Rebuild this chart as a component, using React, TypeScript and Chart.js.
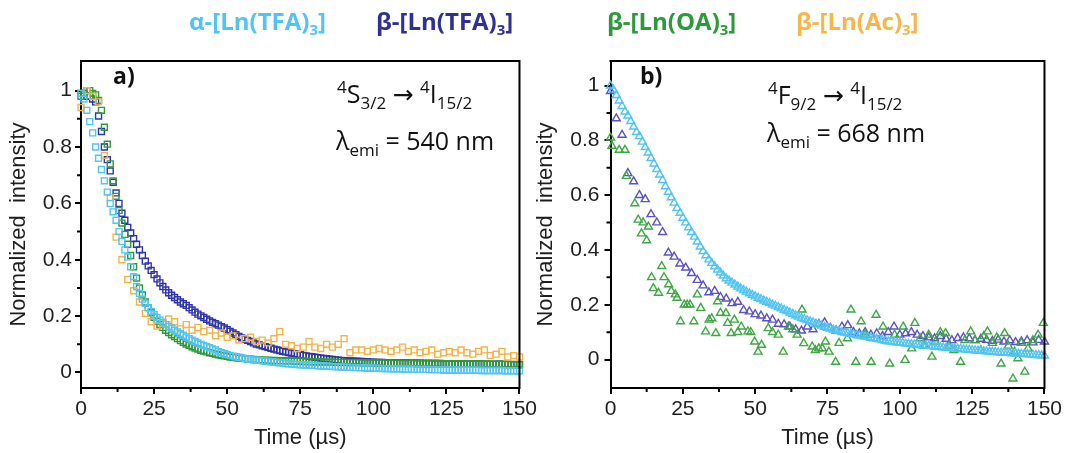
import React, { useEffect, useRef } from 'react';
import { Chart, registerables } from 'chart.js';

Chart.register(...registerables);

// ---------- sampling grids (µs) ----------
const grid1us: number[] = Array.from({ length: 151 }, (_, i) => i);
const grid2us: number[] = Array.from({ length: 76 }, (_, i) => i * 2);

// ---------- axis ticks ----------
const xTicks = [0, 25, 50, 75, 100, 125, 150];
const xMinorTicks = [12.5, 37.5, 62.5, 87.5, 112.5, 137.5];
const yTicks = [0, 0.2, 0.4, 0.6, 0.8, 1];
const yMinorTicks = [0.1, 0.3, 0.5, 0.7, 0.9];

// ---------- legend ----------
const legendNames = ['α-[Ln(TFA)', 'β-[Ln(TFA)', 'β-[Ln(OA)', 'β-[Ln(Ac)'];

// ---------- panel a) 4S3/2 -> 4I15/2, λemi = 540 nm (1 µs grid unless noted) ----------
const alphaTFA_a = [
  0.99, 0.97, 0.93, 0.89, 0.85, 0.80, 0.76, 0.72, 0.68, 0.64, 0.60, 0.57, 0.54, 0.50, 0.465, 0.435, 0.41,
  0.375, 0.34, 0.305, 0.28, 0.26, 0.245, 0.23, 0.217, 0.205, 0.195, 0.186, 0.178, 0.17, 0.163,
  0.157, 0.15, 0.144, 0.138, 0.132, 0.126, 0.12, 0.115, 0.11, 0.105, 0.1, 0.096, 0.092, 0.088, 0.084, 0.08,
  0.074, 0.07, 0.067, 0.064, 0.061, 0.058, 0.056, 0.054, 0.052, 0.05, 0.048, 0.047, 0.045, 0.044,
  0.043, 0.041, 0.04, 0.039, 0.038, 0.037, 0.035, 0.034, 0.033, 0.032, 0.031, 0.03, 0.029, 0.028, 0.027,
  0.027, 0.026, 0.026, 0.025, 0.025, 0.024, 0.024, 0.023, 0.022, 0.022, 0.021, 0.021, 0.02, 0.02, 0.019,
  0.019, 0.018, 0.018, 0.017, 0.017, 0.017, 0.016, 0.016, 0.016, 0.015,
  0.015, 0.015, 0.014, 0.014, 0.014, 0.013, 0.013, 0.013, 0.013, 0.012,
  0.012, 0.012, 0.012, 0.011, 0.011, 0.011, 0.011, 0.011, 0.01, 0.01,
  0.01, 0.01, 0.01, 0.009, 0.009, 0.009, 0.009, 0.009, 0.009, 0.008,
  0.008, 0.008, 0.008, 0.008, 0.008, 0.008, 0.007, 0.007, 0.007, 0.007,
  0.007, 0.007, 0.007, 0.007, 0.006, 0.006, 0.006, 0.006, 0.006, 0.006,
];

const betaTFA_a = [
  0.99, 0.99, 0.98, 0.98, 0.97, 0.96, 0.91, 0.855, 0.80, 0.755, 0.715, 0.675, 0.637, 0.60, 0.565, 0.54, 0.515,
  0.495, 0.475, 0.455, 0.435, 0.415, 0.395, 0.378, 0.362, 0.347, 0.332, 0.318, 0.305, 0.293, 0.283,
  0.274, 0.266, 0.258, 0.25, 0.244, 0.238, 0.23, 0.222, 0.214, 0.207, 0.201, 0.195, 0.189, 0.183, 0.178, 0.173,
  0.168, 0.163, 0.158, 0.152, 0.146, 0.14, 0.134, 0.128, 0.123, 0.118, 0.114, 0.11, 0.105, 0.101,
  0.098, 0.095, 0.092, 0.089, 0.086, 0.083, 0.08, 0.078, 0.075, 0.073, 0.071, 0.069, 0.067, 0.065, 0.063,
  0.061, 0.059, 0.057, 0.056, 0.054, 0.053, 0.051, 0.05, 0.049, 0.047, 0.046, 0.045, 0.044, 0.043, 0.042,
  0.041, 0.041, 0.04, 0.04, 0.039, 0.039, 0.038, 0.038, 0.037, 0.037,
  0.036, 0.036, 0.036, 0.035, 0.035, 0.035, 0.035, 0.034, 0.034, 0.034,
  0.034, 0.033, 0.033, 0.033, 0.033, 0.033, 0.032, 0.032, 0.032, 0.032,
  0.032, 0.032, 0.031, 0.031, 0.031, 0.031, 0.031, 0.031, 0.031, 0.03,
  0.03, 0.03, 0.03, 0.03, 0.03, 0.03, 0.03, 0.029, 0.029, 0.029,
  0.029, 0.029, 0.029, 0.029, 0.029, 0.029, 0.028, 0.028, 0.028, 0.028,
];

const betaOA_a = [
  0.98, 0.99, 1.0, 1.0, 0.99, 0.985, 0.965, 0.93, 0.87, 0.81, 0.74, 0.68, 0.625, 0.575, 0.53, 0.49, 0.455,
  0.415, 0.375, 0.335, 0.30, 0.275, 0.25, 0.23, 0.212, 0.196, 0.182, 0.17, 0.16, 0.15, 0.142,
  0.134, 0.127, 0.12, 0.113, 0.107, 0.101, 0.096, 0.091, 0.087, 0.083, 0.079, 0.076, 0.073, 0.07, 0.068, 0.065,
  0.063, 0.061, 0.059, 0.057, 0.055, 0.054, 0.052, 0.051, 0.05, 0.049, 0.048, 0.047, 0.046, 0.045,
  0.045, 0.044, 0.044, 0.043, 0.043, 0.043, 0.042, 0.042, 0.042, 0.041, 0.041, 0.041, 0.04, 0.04, 0.04,
  0.039, 0.039, 0.039, 0.038, 0.038, 0.038, 0.038, 0.037, 0.037, 0.037, 0.037, 0.036, 0.036, 0.036, 0.036,
  0.035, 0.035, 0.035, 0.035, 0.035, 0.034, 0.034, 0.034, 0.034, 0.034,
  0.033, 0.033, 0.034, 0.033, 0.033, 0.032, 0.033, 0.033, 0.032, 0.033,
  0.032, 0.032, 0.033, 0.032, 0.031, 0.032, 0.032, 0.031, 0.032, 0.031,
  0.031, 0.031, 0.032, 0.031, 0.030, 0.031, 0.031, 0.030, 0.031, 0.030,
  0.030, 0.030, 0.031, 0.030, 0.029, 0.030, 0.030, 0.029, 0.030, 0.029,
  0.029, 0.029, 0.030, 0.029, 0.028, 0.029, 0.029, 0.028, 0.029, 0.028,
];

// 2 µs grid
const betaAc_a = [
  0.94, 1.0, 0.98, 0.96, 0.77, 0.62, 0.48, 0.40, 0.33, 0.29,
  0.25, 0.21, 0.18, 0.165, 0.175, 0.19, 0.18, 0.155, 0.17, 0.15,
  0.16, 0.145, 0.15, 0.13, 0.14, 0.125, 0.13, 0.115, 0.12, 0.125,
  0.11, 0.115, 0.105, 0.12, 0.145, 0.1, 0.095, 0.085, 0.09, 0.11,
  0.09, 0.085, 0.1, 0.09, 0.1, 0.12, 0.07, 0.08, 0.08, 0.075,
  0.08, 0.085, 0.08, 0.075, 0.08, 0.09, 0.075, 0.08, 0.07, 0.075,
  0.08, 0.065, 0.07, 0.075, 0.07, 0.08, 0.07, 0.065, 0.075, 0.08,
  0.06, 0.065, 0.075, 0.055, 0.06, 0.055,
];

// ---------- panel b) 4F9/2 -> 4I15/2, λemi = 668 nm ----------
const alphaTFA_b = [
  1.0, 0.985, 0.965, 0.945, 0.925, 0.905, 0.89, 0.87, 0.85, 0.83,
  0.815, 0.795, 0.775, 0.755, 0.735, 0.715, 0.695, 0.675, 0.655, 0.632,
  0.612, 0.592, 0.572, 0.553, 0.535, 0.517, 0.5, 0.482, 0.465, 0.448,
  0.43, 0.412, 0.395, 0.38, 0.365, 0.352, 0.34, 0.328, 0.317, 0.306,
  0.296, 0.288, 0.28, 0.273, 0.266, 0.259, 0.253, 0.247, 0.241, 0.236,
  0.23, 0.225, 0.22, 0.215, 0.21, 0.205, 0.2, 0.196, 0.191, 0.186,
  0.181, 0.176, 0.171, 0.166, 0.161, 0.156, 0.151, 0.147, 0.143, 0.139,
  0.135, 0.131, 0.127, 0.123, 0.119, 0.115, 0.112, 0.109, 0.106, 0.103,
  0.1, 0.098, 0.096, 0.093, 0.091, 0.089, 0.087, 0.085, 0.083, 0.081,
  0.079, 0.077, 0.075, 0.073, 0.07, 0.068, 0.066, 0.065, 0.063, 0.062,
  0.061, 0.06, 0.058, 0.057, 0.056, 0.055, 0.054, 0.052, 0.051, 0.05,
  0.049, 0.048, 0.047, 0.046, 0.045, 0.044, 0.043, 0.042, 0.041, 0.04,
  0.039, 0.038, 0.037, 0.036, 0.035, 0.034, 0.033, 0.032, 0.031, 0.03,
  0.029, 0.028, 0.028, 0.027, 0.026, 0.025, 0.025, 0.024, 0.023, 0.022,
  0.022, 0.021, 0.02, 0.019, 0.019, 0.018, 0.017, 0.016, 0.016, 0.015,
  0.014,
];

// 2 µs grid
const betaTFA_b = [
  0.98, 0.88, 0.82, 0.68, 0.65, 0.6, 0.585, 0.53, 0.5, 0.465,
  0.39, 0.375, 0.35, 0.335, 0.315, 0.29, 0.27, 0.245, 0.25, 0.228,
  0.222, 0.205, 0.21, 0.18, 0.175, 0.165, 0.16, 0.15, 0.145, 0.13,
  0.128, 0.12, 0.11, 0.105, 0.12, 0.11, 0.13, 0.135, 0.115, 0.105,
  0.12, 0.125, 0.1, 0.095, 0.1, 0.09, 0.095, 0.085, 0.1, 0.12,
  0.09, 0.095, 0.1, 0.09, 0.085, 0.08, 0.077, 0.085, 0.075, 0.07,
  0.078, 0.08, 0.077, 0.07, 0.075, 0.071, 0.068, 0.072, 0.065, 0.07,
  0.063, 0.066, 0.07, 0.062, 0.071, 0.065,
];

// irregular, read point by point
const betaOA_b_time = [
  0, 0.5, 3, 5, 5.5, 8.4, 9.6, 10.7, 11.3, 12.5, 13.1, 14.2, 14.8, 16.6, 17.7, 18.5, 20.1, 21, 22.4, 23,
  24.2, 25.5, 26.5, 27.5, 28.8, 30, 31.2, 32.9, 34.1, 35, 36.4, 37, 38, 39.9, 40.5, 41.7, 42.8, 44, 45.2, 47.5,
  48.5, 49.8, 51, 52.2, 54.5, 56, 58, 59.7, 61.5, 63, 64.5, 66.2, 66.8, 69.7, 70.8, 72, 73.2, 74.3, 75.5, 77.8,
  79, 81.9, 83.1, 84.8, 86.6, 88, 90.1, 91.8, 94.2, 96.5, 98.2, 101.2, 101.8, 104.1, 105.2, 107, 108.5, 110, 111.1, 112.3,
  114, 115.8, 117, 118.7, 121, 122.5, 124.5, 126, 128, 129, 130.3, 132, 133.5, 135, 136.2, 137.5, 139.1, 139.7, 140.8, 142,
  143.2, 144.3, 146, 147.8, 149.6,
];
const betaOA_b_value = [
  0.81, 0.78, 0.765, 0.765, 0.67, 0.57, 0.51, 0.46, 0.5, 0.435, 0.485, 0.3, 0.26, 0.243, 0.341, 0.3, 0.274, 0.25, 0.237, 0.225,
  0.139, 0.2, 0.2, 0.2, 0.139, 0.237, 0.188, 0.102, 0.145, 0.15, 0.096, 0.212, 0.17, 0.169, 0.133, 0.096, 0.145, 0.1, 0.12, 0.102,
  0.1, 0.065, 0.028, 0.053, 0.114, 0.1, 0.09, 0.028, 0.12, 0.11, 0.09, 0.182, 0.059, 0.047, 0.034, 0.04, 0.04, 0.065, 0.028, -0.009,
  0.06, 0.077, 0.182, -0.009, 0.139, 0.09, -0.009, 0.163, 0.12, -0.015, 0.09, 0.12, -0.002, 0.04, 0.133, 0.077, 0.05, 0.09, 0.01, 0.065,
  0.1, 0.096, 0.05, 0.034, -0.009, 0.07, 0.102, 0.07, 0.034, 0.085, 0.102, 0.06, 0.08, -0.015, 0.096, 0.05, -0.07, 0.028, 0.004, 0.06,
  -0.045, 0.04, 0.07, 0.09, 0.133,
];

// ---------- colours ----------
const colAlpha = '#52c4f2';
const colBetaTFA = '#2d35a8';
const colBetaOA = '#2f9b36';
const colBetaAc = '#f6b446';
const colBetaTFA_b = '#5a52c6';
const colBetaOA_b = '#3ea843';
const legendColors = [colAlpha, '#2e3192', '#2c9a3a', '#f8b548'];

type Run = [string, number, number]; // text, size, dy
type TextItem = { x: number; y: number; runs: Run[]; color: string; weight: string };

const ANNOT_FAMILY = '"Open Sans", "DejaVu Sans", sans-serif';
const AXIS_FAMILY = '"Liberation Sans", Arial, sans-serif';

function drawRuns(ctx: CanvasRenderingContext2D, item: TextItem) {
  let cx = item.x;
  ctx.fillStyle = item.color;
  ctx.textBaseline = 'alphabetic';
  ctx.textAlign = 'left';
  for (const [t, size, dy] of item.runs) {
    ctx.font = `${item.weight} ${size}px ${ANNOT_FAMILY}`;
    ctx.fillText(t, cx, item.y + dy);
    cx += ctx.measureText(t).width;
  }
}

function pts(xs: number[], ys: number[]) {
  return ys.map((v, i) => ({ x: xs[i], y: v }));
}

function makeDataset(label: string, data: { x: number; y: number }[], color: string, style: string, radius: number) {
  return {
    label,
    data,
    showLine: false,
    pointStyle: style,
    pointRadius: radius,
    pointBorderWidth: 1.4,
    pointBorderColor: color,
    pointBackgroundColor: 'rgba(255,255,255,0)',
    borderColor: color,
    backgroundColor: 'rgba(255,255,255,0)',
    clip: false,
  };
}

type PanelCfg = {
  datasets: any[];
  yMin: number;
  yMax: number;
  chartLeft: number;
  chartRight: number;
  canvasW: number;
  yTickPad: number;
  yTitlePad: number;
  texts: TextItem[];
};

function buildChart(canvas: HTMLCanvasElement, cfg: PanelCfg) {
  const chartTop = 61;
  const axisHeight = 65;
  const overlay = {
    id: 'overlay',
    afterDraw(chart: any) {
      const { ctx, chartArea } = chart;
      const { left, right, top, bottom } = chartArea;
      const x = chart.scales.x;
      const y = chart.scales.y;
      ctx.save();
      ctx.strokeStyle = '#000';
      ctx.lineWidth = 2;
      ctx.beginPath();
      ctx.moveTo(left - 1, top);
      ctx.lineTo(right, top);
      ctx.lineTo(right, bottom + 1);
      ctx.stroke();
      ctx.beginPath();
      for (const v of xMinorTicks) {
        const px = x.getPixelForValue(v);
        ctx.moveTo(px, bottom);
        ctx.lineTo(px, bottom + 4);
      }
      for (const v of yMinorTicks) {
        const py = y.getPixelForValue(v);
        ctx.moveTo(left, py);
        ctx.lineTo(left - 4, py);
      }
      ctx.stroke();
      for (const t of cfg.texts) drawRuns(ctx, t);
      ctx.restore();
    },
  };

  return new Chart(canvas, {
    type: 'scatter',
    data: { datasets: cfg.datasets },
    options: {
      responsive: false,
      animation: false,
      events: [],
      layout: { padding: { left: 0, right: cfg.canvasW - cfg.chartRight, top: chartTop, bottom: 0 } },
      plugins: { legend: { display: false }, tooltip: { enabled: false } },
      scales: {
        x: {
          type: 'linear',
          position: 'bottom',
          min: 0,
          max: 150,
          afterFit: (s: any) => { s.height = axisHeight; },
          afterBuildTicks: (s: any) => { s.ticks = xTicks.map((v) => ({ value: v })); },
          ticks: {
            color: '#1e1e1e',
            font: { family: AXIS_FAMILY, size: 21 },
            padding: 3,
            maxRotation: 0,
            autoSkip: false,
          },
          grid: { drawOnChartArea: false, drawTicks: true, tickLength: 6, color: '#000', lineWidth: 2, tickWidth: 2, tickColor: '#000' },
          border: { display: true, color: '#000', width: 2 },
          title: {
            display: true,
            text: 'Time (µs)',
            color: '#1e1e1e',
            font: { family: AXIS_FAMILY, size: 22 },
            padding: { top: 0, bottom: 2 },
          },
        },
        y: {
          type: 'linear',
          position: 'left',
          min: cfg.yMin,
          max: cfg.yMax,
          afterFit: (s: any) => { s.width = cfg.chartLeft; },
          afterBuildTicks: (s: any) => { s.ticks = yTicks.map((v) => ({ value: v })); },
          ticks: {
            color: '#1e1e1e',
            font: { family: AXIS_FAMILY, size: 21 },
            padding: cfg.yTickPad,
            callback: (v: any) => String(Number(Number(v).toFixed(1))),
          },
          grid: { drawOnChartArea: false, drawTicks: true, tickLength: 6, color: '#000', lineWidth: 2, tickWidth: 2, tickColor: '#000' },
          border: { display: true, color: '#000', width: 2 },
          title: {
            display: true,
            text: 'Normalized  intensity',
            color: '#1e1e1e',
            font: { family: AXIS_FAMILY, size: 22 },
            padding: { top: cfg.yTitlePad, bottom: 0 },
          },
        },
      },
    } as any,
    plugins: [overlay],
  } as any);
}

const SUP = 17;
const MAIN = 25;

export default function App() {
  const refA = useRef<HTMLCanvasElement>(null);
  const refB = useRef<HTMLCanvasElement>(null);

  useEffect(() => {
    const legendRun = (name: string): Run[] => [[name, 24, 0], ['3', 15, 5], [']', 24, 0]];

    const textsA: TextItem[] = [
      { x: 189, y: 30, runs: legendRun(legendNames[0]), color: legendColors[0], weight: 'bold' },
      { x: 376, y: 30, runs: legendRun(legendNames[1]), color: legendColors[1], weight: 'bold' },
      { x: 113, y: 84, runs: [['a)', 23, 0]], color: '#111', weight: 'bold' },
      {
        x: 337, y: 103,
        runs: [['4', SUP, -10], ['S', MAIN, 0], ['3/2', SUP, 6], [' → ', MAIN, 0], ['4', SUP, -10], ['I', MAIN, 0], ['15/2', SUP, 6]],
        color: '#111', weight: 'normal',
      },
      {
        x: 336, y: 150,
        runs: [['λ', MAIN, 0], ['emi', SUP, 6], [' = 540 nm', MAIN, 0]],
        color: '#111', weight: 'normal',
      },
    ];
    const offB = 532;
    const textsB: TextItem[] = [
      { x: 607 - offB, y: 30, runs: legendRun(legendNames[2]), color: legendColors[2], weight: 'bold' },
      { x: 796 - offB, y: 30, runs: legendRun(legendNames[3]), color: legendColors[3], weight: 'bold' },
      { x: 640 - offB, y: 84, runs: [['b)', 23, 0]], color: '#111', weight: 'bold' },
      {
        x: 768 - offB, y: 104,
        runs: [['4', SUP, -10], ['F', MAIN, 0], ['9/2', SUP, 6], [' → ', MAIN, 0], ['4', SUP, -10], ['I', MAIN, 0], ['15/2', SUP, 6]],
        color: '#111', weight: 'normal',
      },
      {
        x: 767 - offB, y: 142,
        runs: [['λ', MAIN, 0], ['emi', SUP, 6], [' = 668 nm', MAIN, 0]],
        color: '#111', weight: 'normal',
      },
    ];

    const chartA = buildChart(refA.current!, {
      datasets: [
        makeDataset('α-[Ln(TFA)3]', pts(grid1us, alphaTFA_a), colAlpha, 'rect', 4.2),
        makeDataset('β-[Ln(Ac)3]', pts(grid2us, betaAc_a), colBetaAc, 'rect', 4.2),
        makeDataset('β-[Ln(OA)3]', pts(grid1us, betaOA_a), colBetaOA, 'rect', 4.2),
        makeDataset('β-[Ln(TFA)3]', pts(grid1us, betaTFA_a), colBetaTFA, 'rect', 4.2),
      ],
      yMin: -0.055,
      yMax: 1.105,
      chartLeft: 81,
      chartRight: 520,
      canvasW: 540,
      yTickPad: 3,
      yTitlePad: 6,
      texts: textsA,
    });
    const chartB = buildChart(refB.current!, {
      datasets: [
        makeDataset('α-[Ln(TFA)3]', pts(grid1us, alphaTFA_b), colAlpha, 'triangle', 4.6),
        makeDataset('β-[Ln(OA)3]', pts(betaOA_b_time, betaOA_b_value), colBetaOA_b, 'triangle', 4.6),
        makeDataset('β-[Ln(TFA)3]', pts(grid2us, betaTFA_b), colBetaTFA_b, 'triangle', 4.6),
      ],
      yMin: -0.104,
      yMax: 1.09,
      chartLeft: 78.5,
      chartRight: 517,
      canvasW: 533,
      yTickPad: 5,
      yTitlePad: 1,
      texts: textsB,
    });
    return () => {
      chartA.destroy();
      chartB.destroy();
    };
  }, []);

  return (
    <div style={{ position: 'absolute', left: 0, top: 0, width: 1065, height: 453, background: '#fff', overflow: 'hidden' }}>
      <canvas ref={refA} width={540} height={453} style={{ position: 'absolute', left: 0, top: 0, width: 540, height: 453 }} />
      <canvas ref={refB} width={533} height={453} style={{ position: 'absolute', left: 532, top: 0, width: 533, height: 453 }} />
    </div>
  );
}
